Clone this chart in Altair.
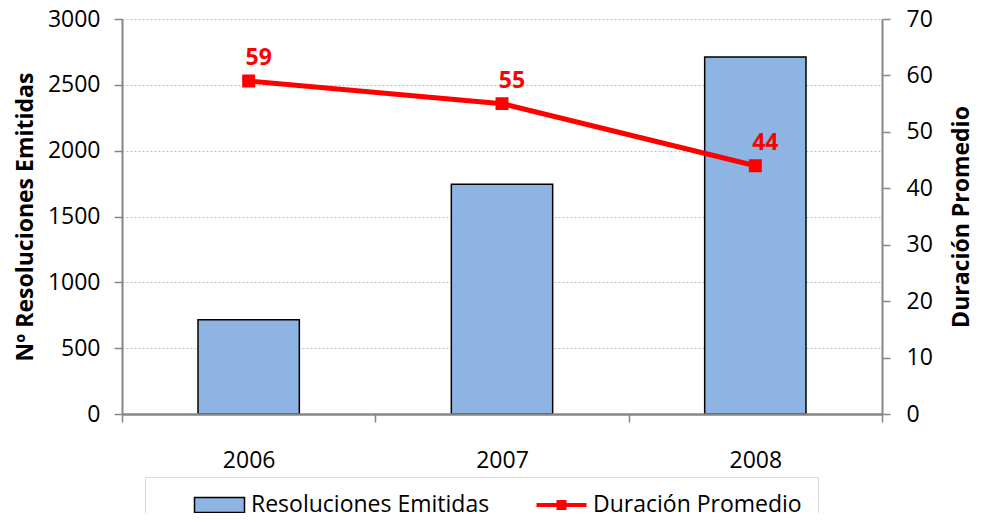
import altair as alt
import pandas as pd

years = ["2006", "2007", "2008"]
resoluciones = [715, 1745, 2712]
duracion = [59, 55, 44]
serie_bar = "Resoluciones Emitidas"
serie_line = "Duración Promedio"

df = pd.DataFrame({
    "Año": years,
    "Resoluciones": resoluciones,
    "Duracion": duracion,
    "sbar": [serie_bar] * 3,
    "sline": [serie_line] * 3,
})

FONT = "Open Sans"
BLUE = "#8eb4e3"
RED = "#ff0000"
GRAY = "#868686"
FS = 23

series = [serie_bar, serie_line]
fill_scale = alt.Scale(domain=series, range=[BLUE, RED])
stroke_scale = alt.Scale(domain=series, range=["#000000", RED])

is_bar = f"datum.value === '{serie_bar}'"
pad = "\u00a0" * 5
legend = alt.Legend(
    title=None,
    orient="none",
    legendX=23,
    legendY=458,
    direction="horizontal",
    columns=2,
    gridAlign="all",
    padding=16,
    strokeColor="#d9d9d9",
    labelFont=FONT,
    labelFontSize=FS,
    labelColor="black",
    labelLimit=500,
    labelExpr=f"datum.label === '{serie_line}' ? datum.label + '{pad}' : datum.label",
    symbolSize=2500,
    clipHeight=24,
    symbolOffset=47,
    labelOffset=20,
    columnPadding=13,
    symbolOpacity=1,
    symbolType=alt.ExprRef(expr=f"{is_bar} ? 'M-1,-0.3H1V0.3H-1Z' : 'M-1,-0.08H1V0.08H-1Z M-0.2,-0.2H0.2V0.2H-0.2Z'"),
    symbolStrokeWidth=alt.ExprRef(expr=f"{is_bar} ? 1.5 : 0"),
)

x_enc = alt.X(
    "Año:N",
    scale=alt.Scale(paddingInner=0, paddingOuter=0),
    axis=alt.Axis(
        title=None,
        labelAngle=0,
        labelPadding=27,
        tickBand="extent",
        tickSize=8,
        tickColor=GRAY,
        tickWidth=1.5,
        domainColor=GRAY,
        domainWidth=2.5,
        labelFont=FONT,
        labelFontSize=FS,
        labelColor="black",
        zindex=1,
    ),
)

base = alt.Chart(df).encode(x=x_enc)

bars = base.mark_bar(stroke="black", strokeWidth=1.5, width=alt.RelativeBandSize(0.4)).encode(
    y=alt.Y(
        "Resoluciones:Q",
        scale=alt.Scale(domain=[0, 3000]),
        axis=alt.Axis(
            title="Nº Resoluciones  Emitidas",
            values=[0, 500, 1000, 1500, 2000, 2500, 3000],
            format="d",
            orient="left",
            grid=True,
            gridColor="#c0c0c0",
            gridDash=[2, 2],
            gridWidth=1,
            tickSize=8,
            tickColor=GRAY,
            tickWidth=1.5,
            domainColor=GRAY,
            domainWidth=2,
            labelFont=FONT,
            labelFontSize=FS,
            labelColor="black",
            labelPadding=14,
            titleFont=FONT,
            titleFontSize=23,
            titleFontWeight="bold",
            titleColor="black",
            titlePadding=10,
        ),
    ),
    fill=alt.Fill("sbar:N", scale=fill_scale, legend=legend),
)

y_right = alt.Y(
    "Duracion:Q",
    scale=alt.Scale(domain=[0, 70]),
    axis=alt.Axis(
        title="Duración Promedio",
        values=[0, 10, 20, 30, 40, 50, 60, 70],
        format="d",
        orient="right",
        grid=False,
        tickSize=8,
        tickColor=GRAY,
        tickWidth=1.5,
        domainColor=GRAY,
        domainWidth=2,
        labelFont=FONT,
        labelFontSize=FS,
        labelColor="black",
        labelPadding=16,
        titleFont=FONT,
        titleFontSize=23,
        titleFontWeight="bold",
        titleColor="black",
        titleAngle=270,
        titleBaseline="top",
        titlePadding=18,
    ),
)

base_right = base.encode(y=y_right)

line = base_right.mark_line(
    strokeWidth=5,
    point=alt.OverlayMarkDef(shape="square", size=120, filled=True, color=RED, opacity=1),
).encode(
    stroke=alt.Stroke("sline:N", scale=stroke_scale, legend=legend),
)

labels = base_right.mark_text(
    dx=10, dy=-23, font=FONT, fontSize=23, fontWeight="bold", color=RED
).encode(
    text=alt.Text("Duracion:Q"),
)

right = alt.layer(line, labels)

chart = (
    alt.layer(bars, right)
    .resolve_scale(y="independent")
    .properties(
        width=760,
        height=395,
        autosize="none",
        padding={"left": 114, "top": 11, "right": 90, "bottom": 99},
        background="white",
    )
    .configure_view(stroke=None)
)

chart.save("out.html", embed_options={"renderer": "svg", "actions": False})
